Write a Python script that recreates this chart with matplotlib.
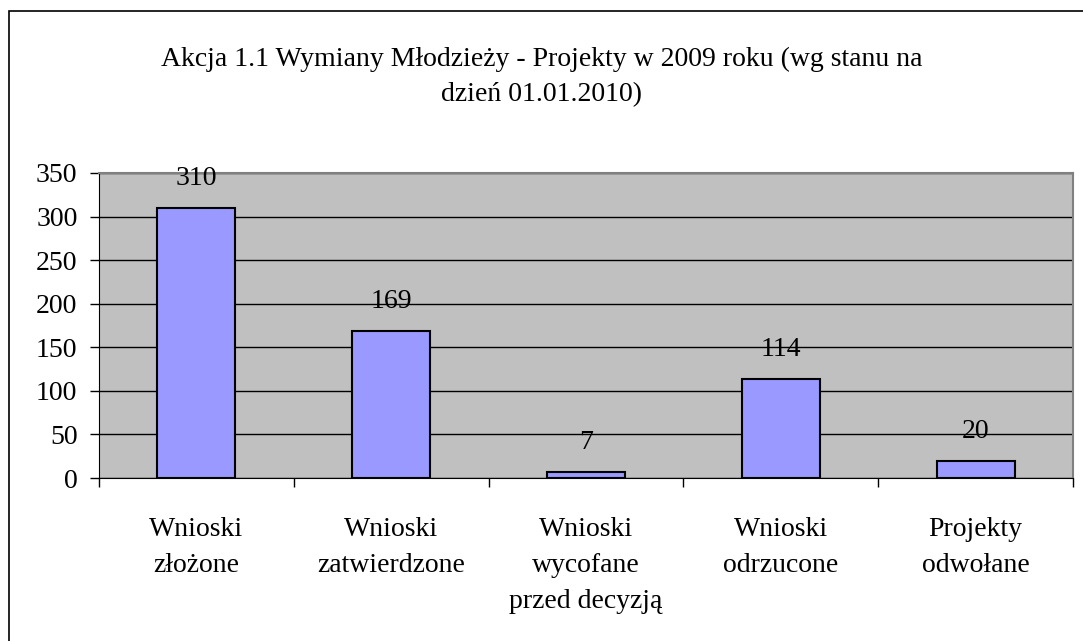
import matplotlib

matplotlib.use("Agg")
import matplotlib.pyplot as plt
from matplotlib.patches import Rectangle

plt.rcParams["font.family"] = ["Liberation Serif", "DejaVu Serif"]

TITLE = "Akcja 1.1 Wymiany Młodzieży - Projekty w 2009 roku (wg stanu na\ndzień 01.01.2010)"
categories = [
    "Wnioski\nzłożone",
    "Wnioski\nzatwierdzone",
    "Wnioski\nwycofane\nprzed decyzją",
    "Wnioski\nodrzucone",
    "Projekty\nodwołane",
]
values = [310, 169, 7, 114, 20]
y_ticks = [0, 50, 100, 150, 200, 250, 300, 350]

FS = 20

fig = plt.figure(figsize=(10.83, 6.41), dpi=100)
fig.patch.set_facecolor("white")

# outer chart frame (right and bottom edges fall outside the picture)
fig.patches.append(Rectangle((9 / 1083, -0.05), 1.1, 1 - 11 / 641 + 0.05,
                             transform=fig.transFigure, fill=False,
                             edgecolor="black", linewidth=1.2))

ax = fig.add_axes([99 / 1083, 1 - 478 / 641, (1073 - 99) / 1083, (478 - 173) / 641])
ax.set_facecolor("#C0C0C0")

x = list(range(len(categories)))
ax.bar(x, values, width=0.4, color="#9999FF", edgecolor="black", linewidth=1.5, zorder=3)

for xi, v in zip(x, values):
    ax.annotate(str(v), (xi, v), xytext=(0, 21), textcoords="offset points",
                ha="center", va="center", fontsize=FS, zorder=4)

ax.set_xlim(-0.5, len(categories) - 0.5)
ax.set_ylim(0, 350)
ax.set_yticks(y_ticks)
ax.set_yticklabels([str(t) for t in y_ticks], fontsize=FS)
ax.yaxis.grid(True, color="black", linewidth=1.0, zorder=0)
ax.set_axisbelow(True)
ax.tick_params(axis="y", length=6.5, width=1, direction="out", pad=9)

ax.set_xticks(x)
ax.set_xticklabels(categories, fontsize=FS, linespacing=1.58, va="top")
ax.tick_params(axis="x", which="major", length=0, pad=28)
ax.set_xticks([i - 0.5 for i in range(len(categories) + 1)], minor=True)
ax.tick_params(axis="x", which="minor", length=6.5, width=1, direction="out")

for side in ("top", "right"):
    ax.spines[side].set_color("#808080")
    ax.spines[side].set_linewidth(1.5)
ax.spines["left"].set_color("black")
ax.spines["bottom"].set_color("black")

fig.text(0.5, 1 - 77 / 641, TITLE, ha="center", va="center", fontsize=FS, linespacing=1.5)

fig.savefig("out.png", dpi=100, facecolor="white")
